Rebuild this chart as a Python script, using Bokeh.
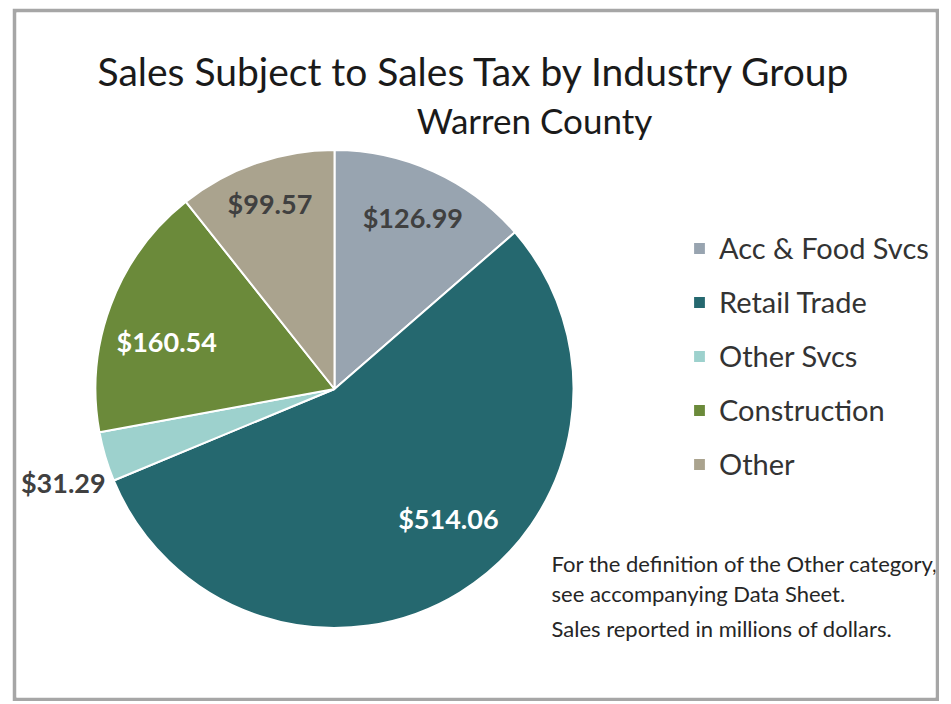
import math
from bokeh.plotting import figure
from bokeh.models import Range1d, Legend, LegendItem, Label, ColumnDataSource
from bokeh.core.properties import value
from bokeh.embed import file_html
from bokeh.resources import INLINE

# ---- data ----
categories = ["Acc & Food Svcs", "Retail Trade", "Other Svcs", "Construction", "Other"]
sales = [126.99, 514.06, 31.29, 160.54, 99.57]
colors = ["#98a4b0", "#25686f", "#9dd1cd", "#6b8a3a", "#aaa38e"]
label_colors = ["#404040", "#ffffff", "#404040", "#ffffff", "#404040"]
title_text = "Sales Subject to Sales Tax by Industry Group"
subtitle_text = "Warren County"
note_lines = ["For the definition of the Other category,",
              "see accompanying Data Sheet.",
              "Sales reported in millions of dollars."]

# ---- style / layout ----
W, H = 927, 693
B = 4
FW, FH = W - 2 * B, H - 2 * B
FONT = "Lato"
cx, cy, R = 318, 308.5, 239
label_r = [0.79, 0.72, 1.2, 0.73, 0.82]
label_dtheta = [0.0, 9.7, 2.5, 4.7, 0.0]  # degrees, best-fit nudges

p = figure(width=W, height=H, output_backend="svg", toolbar_location=None,
           x_range=Range1d(0, FW), y_range=Range1d(0, FH),
           min_border=B, border_fill_color="#a6a6a6", background_fill_color="white",
           outline_line_color=None)
p.margin = (8, 0, 0, 12)
p.axis.visible = False
p.grid.visible = False

total = sum(sales)
starts, ends, mids = [], [], []
cum = 0.0
for v in sales:
    a0 = math.pi / 2 - 2 * math.pi * cum / total
    cum += v
    a1 = math.pi / 2 - 2 * math.pi * cum / total
    starts.append(a0)
    ends.append(a1)
    mids.append((a0 + a1) / 2)

items = []
for i, cat in enumerate(categories):
    r = p.wedge(x=cx, y=cy, radius=R, start_angle=starts[i], end_angle=ends[i],
                direction="clock", fill_color=colors[i], line_color="white", line_width=2)
    items.append(LegendItem(label=cat, renderers=[r]))

ang = [mids[i] + math.radians(label_dtheta[i]) for i in range(len(sales))]
lx = [cx + label_r[i] * R * math.cos(ang[i]) for i in range(len(sales))]
ly = [cy + label_r[i] * R * math.sin(ang[i]) for i in range(len(sales))]
src = ColumnDataSource(dict(x=lx, y=ly, t=["$%.2f" % v for v in sales], c=label_colors))
p.text(x="x", y="y", text="t", text_color="c", source=src, text_align="center",
       text_baseline="middle", text_font=value(FONT), text_font_style="bold",
       text_font_size="27px")

p.add_layout(Label(x=458, y=627, text=title_text, text_align="center", text_baseline="middle",
                   text_font=FONT, text_font_size="39px", text_color="#1a1a1a"))
p.add_layout(Label(x=518, y=578, text=subtitle_text, text_align="center", text_baseline="middle",
                   text_font=FONT, text_font_size="35px", text_color="#1a1a1a"))
for yy, line in zip([134, 104, 69], note_lines):
    p.add_layout(Label(x=535, y=yy, text=line, text_align="left", text_baseline="middle",
                       text_font=FONT, text_font_size="22px", text_color="#262626"))

legend = Legend(items=items, location=(675, 216), orientation="vertical",
                border_line_color=None, background_fill_alpha=0,
                glyph_width=16, glyph_height=16, label_standoff=12,
                label_height=20, spacing=19, padding=0, margin=0,
                label_text_font=FONT, label_text_font_size="29px", label_text_color="#333333")
p.add_layout(legend)

open("out.html", "w").write(file_html(p, INLINE))
